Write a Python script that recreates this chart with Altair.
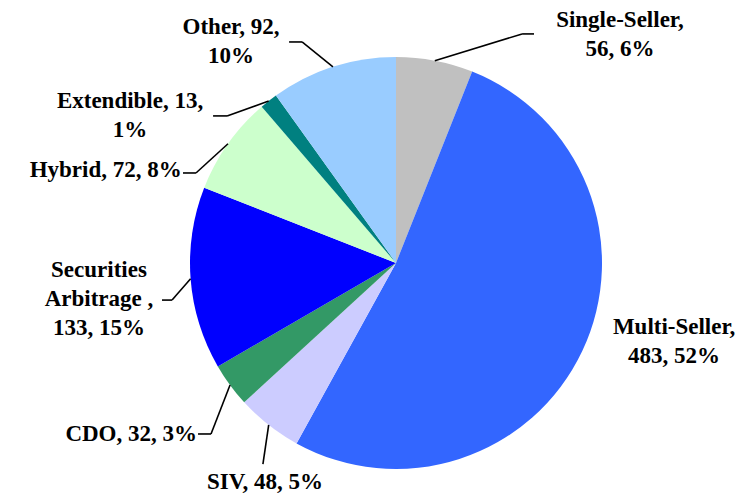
import math
import altair as alt
import pandas as pd

# ---------------- data ----------------
CATEGORIES = ["Single-Seller", "Multi-Seller", "SIV", "CDO",
              "Securities Arbitrage", "Hybrid", "Extendible", "Other"]
VALUES = [56, 483, 48, 32, 133, 72, 13, 92]
PERCENTS = [6, 52, 5, 3, 15, 8, 1, 10]
LABEL_LINES = [
    ["Single-Seller,", "56, 6%"],
    ["Multi-Seller,", "483, 52%"],
    ["SIV, 48, 5%"],
    ["CDO, 32, 3%"],
    ["Securities", "Arbitrage ,", "133, 15%"],
    ["Hybrid, 72, 8%"],
    ["Extendible, 13,", "1%"],
    ["Other, 92,", "10%"],
]
COLORS = ["#C0C0C0", "#3366FF", "#CCCCFF", "#339966",
          "#0000FF", "#CCFFCC", "#008080", "#99CCFF"]

# ---------------- layout ----------------
W, H = 738, 479          # plot area (page minus 8px margins)
R = 206                  # pie radius in px
CX, CY = 388, 253        # pie centre inside the plot, px
LINE_H = 29
TEXT_STYLE = dict(font="Liberation Serif", fontWeight="bold", fontSize=23)

# label layout in pie-radius units relative to the centre (y up)
LAYOUT = {
    "Single-Seller": dict(elbow=(0.612, 1.112), end=(0.670, 1.112), text=(1.087, 1.146), anchor="center"),
    "Multi-Seller": dict(elbow=None, end=None, text=(1.350, -0.345), anchor="center"),
    "SIV": dict(elbow=(-0.646, -0.976), end=(-0.646, -0.976), text=(-0.636, -1.097), anchor="center"),
    "CDO": dict(elbow=(-0.898, -0.830), end=(-0.961, -0.830), text=(-0.966, -0.864), anchor="right"),
    "Securities Arbitrage": dict(elbow=(-1.087, -0.180), end=(-1.136, -0.180), text=(-1.442, -0.068), anchor="center"),
    "Hybrid": dict(elbow=(-0.971, 0.437), end=(-1.034, 0.437), text=(-1.040, 0.417), anchor="right"),
    "Extendible": dict(elbow=(-0.820, 0.714), end=(-0.888, 0.714), text=(-1.291, 0.752), anchor="center"),
    "Other": dict(elbow=(-0.456, 1.073), end=(-0.519, 1.073), text=(-0.801, 1.112), anchor="center"),
}

total = sum(VALUES)
pie_rows, seg_rows = [], []
text_rows = {"center": [], "right": []}
cum = 0
for i, (cat, v, p, lines, col) in enumerate(zip(CATEGORIES, VALUES, PERCENTS, LABEL_LINES, COLORS)):
    mid = 2 * math.pi * (cum + v / 2) / total
    cum += v
    pie_rows.append(dict(idx=i, category=cat, value=v, pct=p, fill=col))
    lay = LAYOUT[cat]
    for j, ln in enumerate(lines):
        text_rows[lay["anchor"]].append(dict(tx=lay["text"][0],
                                             ty=lay["text"][1] - j * LINE_H / R, t=ln))
    if lay["elbow"] is not None:
        pts = [(math.sin(mid), math.cos(mid)), lay["elbow"], lay["end"]]
        for (ax, ay), (bx, by) in zip(pts[:-1], pts[1:]):
            if (ax, ay) != (bx, by):
                seg_rows.append(dict(sx=ax, sy=ay, sx2=bx, sy2=by))

pie_df = pd.DataFrame(pie_rows)
seg_df = pd.DataFrame(seg_rows)

xscale = alt.Scale(domain=[-CX / R, (W - CX) / R], nice=False, zero=False)
yscale = alt.Scale(domain=[-(H - CY) / R, CY / R], nice=False, zero=False)

pie = alt.Chart(pie_df).mark_arc(radius=R).encode(
    theta=alt.Theta("value:Q", stack=True),
    order=alt.Order("idx:Q"),
    color=alt.Color("fill:N", scale=None),
    x=alt.value(CX),
    y=alt.value(CY),
)

leaders = alt.Chart(seg_df).mark_rule(color="black", strokeWidth=1.6).encode(
    x=alt.X("sx:Q", scale=xscale, axis=None),
    y=alt.Y("sy:Q", scale=yscale, axis=None),
    x2="sx2:Q",
    y2="sy2:Q",
)

text_layers = []
for anchor, rows in text_rows.items():
    text_layers.append(
        alt.Chart(pd.DataFrame(rows)).mark_text(align=anchor, baseline="alphabetic", **TEXT_STYLE).encode(
            x=alt.X("tx:Q", scale=xscale, axis=None),
            y=alt.Y("ty:Q", scale=yscale, axis=None),
            text="t:N",
        )
    )

chart = alt.layer(pie, leaders, *text_layers).properties(
    width=W, height=H, padding=0
).configure_view(strokeWidth=0)

chart.save("out.html", embed_options={"renderer": "svg", "actions": False})
